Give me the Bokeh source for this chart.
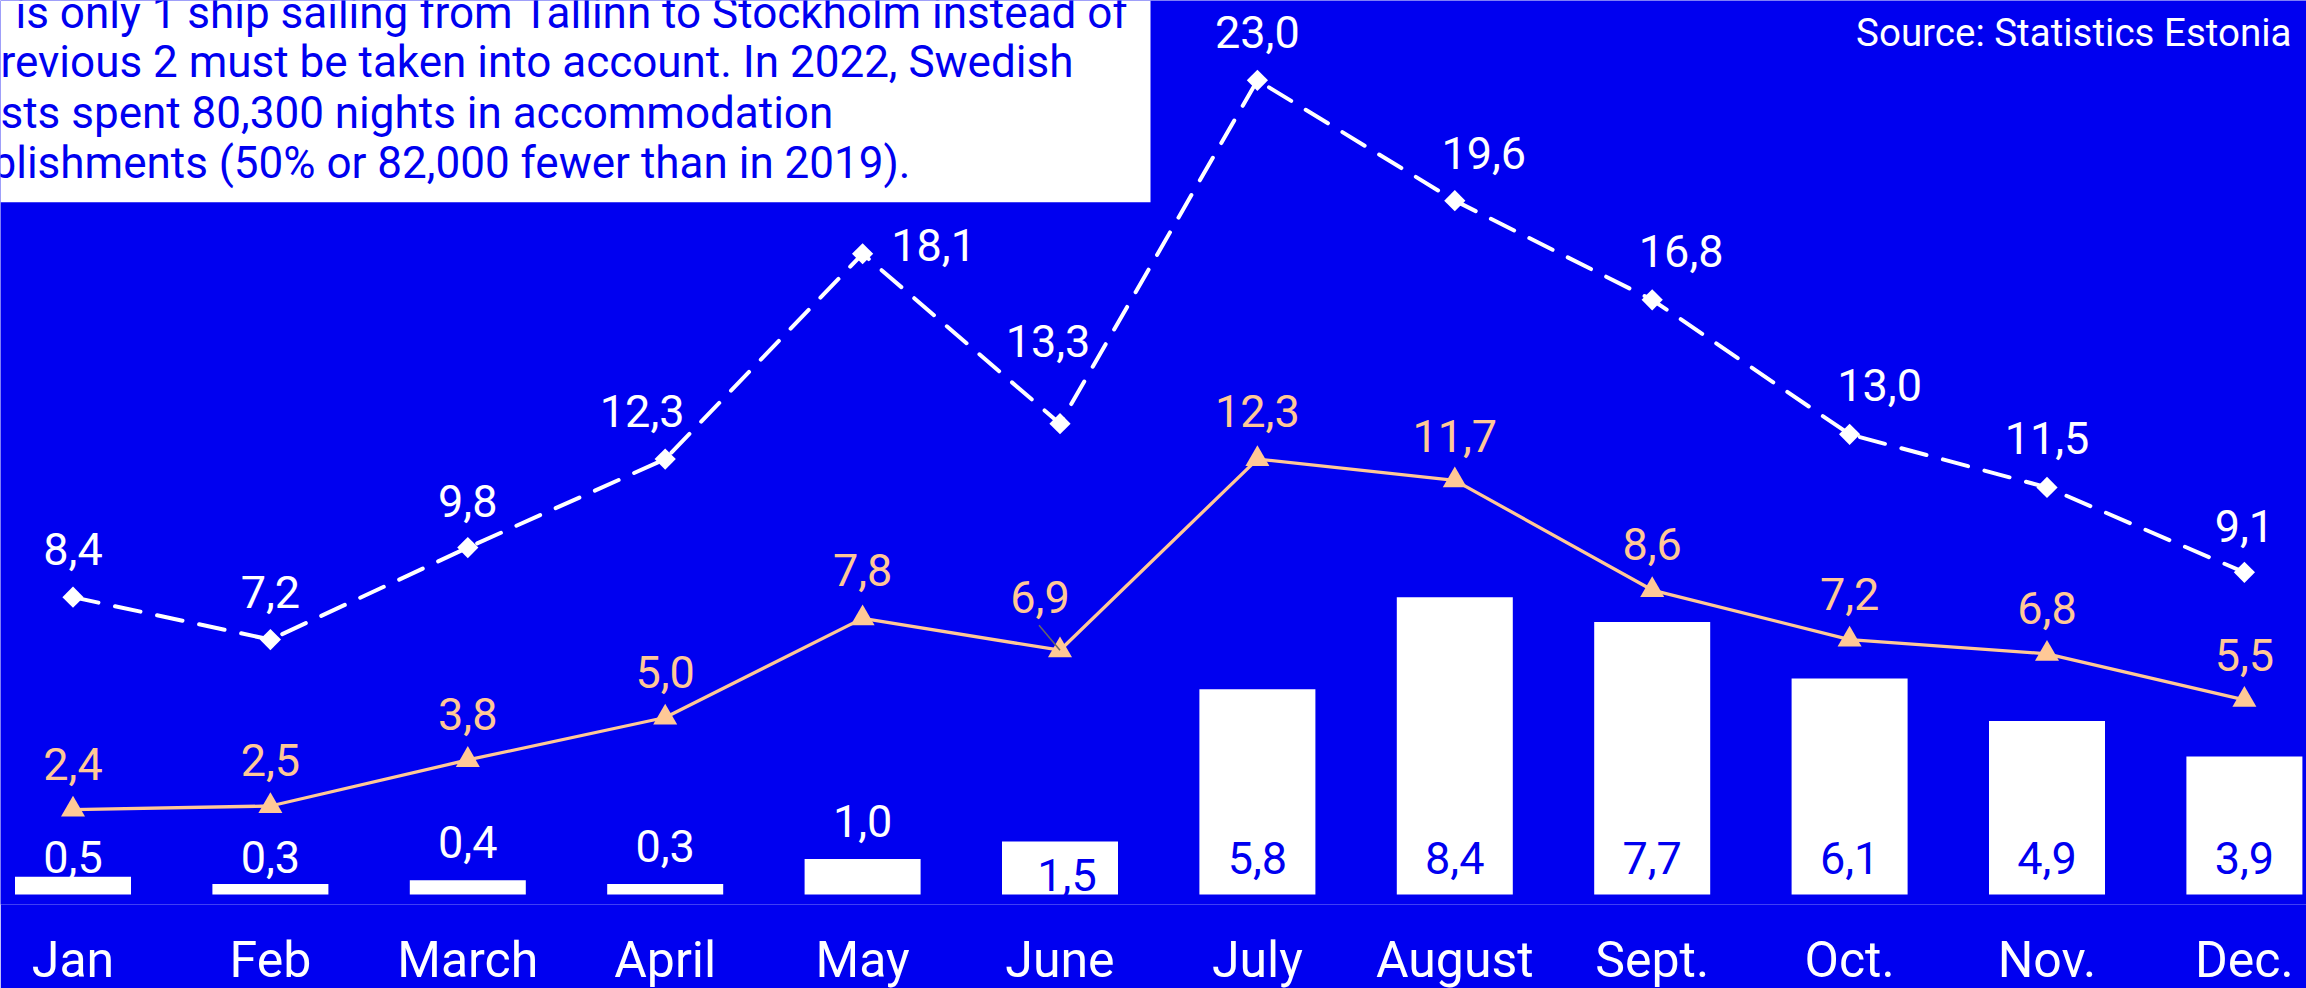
from bokeh.plotting import figure
from bokeh.models import ColumnDataSource, LabelSet, BoxAnnotation, FixedTicker, Range1d
from bokeh.embed import file_html
from bokeh.resources import INLINE
from bokeh.core.properties import value

# ---------------- data (thousands of nights, Swedish tourists) ----------------
months = ["Jan", "Feb", "March", "April", "May", "June",
          "July", "August", "Sept.", "Oct.", "Nov.", "Dec."]
nights_bars = [0.5, 0.3, 0.4, 0.3, 1.0, 1.5, 5.8, 8.4, 7.7, 6.1, 4.9, 3.9]
nights_2022 = [2.4, 2.5, 3.8, 5.0, 7.8, 6.9, 12.3, 11.7, 8.6, 7.2, 6.8, 5.5]
nights_2019 = [8.4, 7.2, 9.8, 12.3, 18.1, 13.3, 23.0, 19.6, 16.8, 13.0, 11.5, 9.1]

note_lines = [
    "is only 1 ship sailing from Tallinn to Stockholm instead of",
    "revious 2 must be taken into account. In 2022, Swedish",
    "sts spent 80,300 nights in accommodation",
    "blishments (50% or 82,000 fewer than in 2019).",
]
source_text = "Source: Statistics Estonia"

# ---------------- layout / style ----------------
W, H = 2306, 988
BLUE = "#0000F0"
PEACH = "#FFC896"
FONT = "Roboto"
X0_PX, DX_PX = 72.5, 197.4      # first category centre, category spacing
BASE_PX, PPU = 894.0, 35.4      # zero line (px from top), px per unit
FRAME_H = 904

def px_x(px):
    return (px - X0_PX) / DX_PX

def px_y(py):
    return (BASE_PX - py) / PPU

def fmt(v):
    return f"{v:.1f}".replace(".", ",")

xs = list(range(len(months)))

# label nudges (pixels)
white_dx = [0, 0, 0, -23, 71, -12, 0, 29, 29, 30, 0, 0]
white_dy = [32, 32, 31, 32, -7, 67, 32, 32, 33, 33, 33, 30]
orange_dx = [0, 0, 0, 0, 0, -20, 0, 0, 0, 0, 0, 0]
orange_dy = [30, 30, 30, 30, 32, 37, 32, 28, 30, 30, 30, 29]
bar_dx = [0, 0, 0, 0, 0, 7, 0, 0, 0, 0, 0, 0]
bar_dy = [4, 11, 22, 22, 22, 4, 21, 21, 21, 21, 21, 21]

inside = [v >= 1.5 for v in nights_bars]

src = ColumnDataSource(dict(
    x=xs,
    bars=nights_bars,
    o=nights_2022,
    w=nights_2019,
    bar_txt=[fmt(v) for v in nights_bars],
    o_txt=[fmt(v) for v in nights_2022],
    w_txt=[fmt(v) for v in nights_2019],
    bar_ly=[0 if ins else v for v, ins in zip(nights_bars, inside)],
    bar_col=[BLUE if ins else "white" for ins in inside],
    bar_dx=bar_dx, bar_dy=bar_dy,
    o_dx=orange_dx, o_dy=orange_dy,
    w_dx=white_dx, w_dy=white_dy,
))

p = figure(frame_width=W, frame_height=FRAME_H, output_backend="svg",
           toolbar_location=None, title=None,
           x_range=Range1d(px_x(0), px_x(W)),
           y_range=Range1d(px_y(FRAME_H), px_y(0)),
           y_axis_location=None, min_border=0)
p.background_fill_color = BLUE
p.border_fill_color = BLUE
p.outline_line_color = None
p.grid.visible = False

# x axis with month names
ax = p.xaxis[0]
ax.ticker = FixedTicker(ticks=xs)
ax.major_label_overrides = {i: m for i, m in enumerate(months)}
ax.axis_line_color = None
ax.major_tick_line_color = None
ax.minor_tick_line_color = None
ax.major_tick_out = 0
ax.major_tick_in = 0
ax.major_label_standoff = 26
ax.major_label_text_font = FONT
ax.major_label_text_font_size = "50px"
ax.major_label_text_color = "white"

# note box (top-left)
p.add_layout(BoxAnnotation(right=px_x(1150), bottom=px_y(201.7),
                           fill_color="white", fill_alpha=1.0, line_color=None))
note_x = [15, 0, 0, -9]
note_base = [27, 76.5, 127, 177.5]
note_src = ColumnDataSource(dict(
    x=[px_x(v) for v in note_x],
    y=[px_y(v) for v in note_base],
    t=note_lines,
))
p.add_layout(LabelSet(x="x", y="y", text="t", source=note_src,
                      text_font=value(FONT), text_font_size=value("44px"),
                      text_color=BLUE, text_align="left",
                      text_baseline="alphabetic"))

# source note (top-right)
source_src = ColumnDataSource(dict(x=[px_x(2291)], y=[px_y(45)], t=[source_text]))
p.add_layout(LabelSet(x="x", y="y", text="t", source=source_src,
                      text_font=value(FONT), text_font_size=value("38.5px"),
                      text_color="white", text_align="right",
                      text_baseline="alphabetic"))

# bars
p.vbar(x="x", top="bars", bottom=0, width=116 / DX_PX, source=src,
       fill_color="white", line_color=None)

# 2022 line (peach, triangles)
p.line("x", "o", source=src, line_color=PEACH, line_width=3.3)
p.scatter("x", "o", source=src, marker="triangle", size=24,
          fill_color=PEACH, line_color=None)

# leader line for the June 2022 label
j = 5
p.segment(x0=[xs[j] - 21 / DX_PX], y0=[nights_2022[j] + 25 / PPU],
          x1=[xs[j]], y1=[nights_2022[j]], line_color="#666666", line_width=1.5)

# 2019 line (white dashed, diamonds)
p.line("x", "w", source=src, line_color="white", line_width=4,
       line_dash="26 17", line_cap="round")
p.scatter("x", "w", source=src, marker="square", angle=0.785398, size=15,
          fill_color="white", line_color=None)

# data labels
common = dict(text_font=value(FONT), text_font_size=value("45px"),
              text_align="center", text_baseline="alphabetic")
p.add_layout(LabelSet(x="x", y="bar_ly", text="bar_txt", x_offset="bar_dx",
                      y_offset="bar_dy", text_color="bar_col", source=src, **common))
p.add_layout(LabelSet(x="x", y="o", text="o_txt", x_offset="o_dx",
                      y_offset="o_dy", text_color=PEACH, source=src, **common))
p.add_layout(LabelSet(x="x", y="w", text="w_txt", x_offset="w_dx",
                      y_offset="w_dy", text_color="white", source=src, **common))

html = file_html(p, INLINE, title="Swedish tourists")
html = html.replace("<body>", '<body style="margin:0;padding:0;background:%s;overflow:hidden">' % BLUE, 1)
open("out.html", "w").write(html)
